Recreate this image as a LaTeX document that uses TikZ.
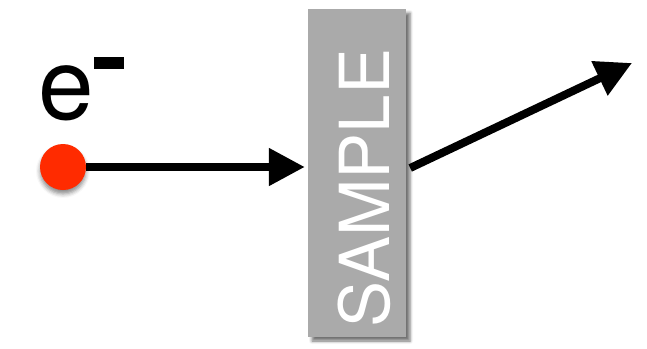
\documentclass[tikz,border=0pt]{standalone}
\usepackage{fontspec}
\setmainfont{TeX Gyre Heros}
\usepackage{xcolor}
\usetikzlibrary{arrows.meta,positioning,shadows.blur}
\definecolor{electronred}{HTML}{FF2B00}
\definecolor{samplegray}{HTML}{AAAAAA}

\begin{document}
\begin{tikzpicture}[
    x=1pt, y=-1pt,
    particle/.style={circle, fill=electronred, minimum size=46pt, inner sep=0pt,
      blur shadow={shadow xshift=0pt, shadow yshift=-4pt,
        shadow blur radius=4pt, shadow opacity=45}},
    slab/.style={rectangle, fill=samplegray, minimum width=98pt,
      minimum height=328pt, inner sep=0pt,
      blur shadow={shadow xshift=4pt, shadow yshift=-4pt,
        shadow blur radius=3pt, shadow opacity=55}},
    slabtext/.style={rotate=90, text=white, inner sep=0pt,
      font=\fontsize{69}{69}\selectfont},
    beam/.style={-{Triangle[length=36pt, width=36pt]}, line width=8pt},
    label/.style={inner sep=0pt, font=\fontsize{100}{100}\selectfont}
  ]
    \useasboundingbox (0,0) rectangle (647,348);

    \node[slab] (sample) at (357,173) {};
    \node[slabtext] (sampletext) at ([xshift=7pt,yshift=-15pt]sample.center) {SAMPLE};

    \node[particle] (dot) at (63,167) {};
    \node[label, anchor=base west] (charge) at (38,119)
      {e\rule[50pt]{30pt}{12pt}};

    \coordinate (out) at (632,63);

    \draw[beam] (dot.east) -- ([xshift=-3pt]dot -| sample.west);
    \draw[beam, shorten <=0pt] ([xshift=4pt,yshift=5pt]sample.east) -- (out);
\end{tikzpicture}
\end{document}
